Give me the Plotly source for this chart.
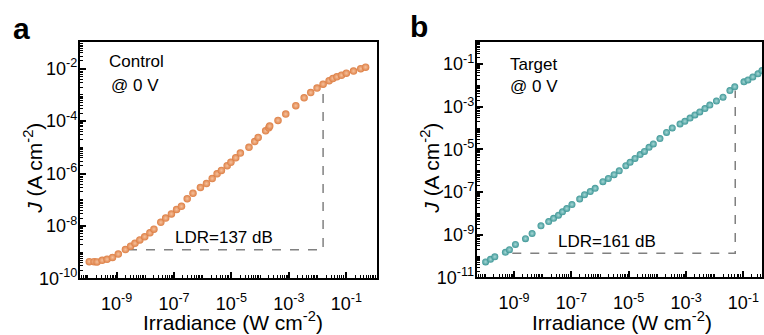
import plotly.graph_objects as go

# ---------------- data ----------------
ctrl_irr = [1.12e-10, 1.66e-10, 2.09e-10, 3.16e-10, 4.68e-10, 7.24e-10, 1.15e-9, 2.04e-9, 3.09e-9, 4.37e-9,
            6.46e-9, 9.55e-9, 1.45e-8, 2.00e-8, 3.47e-8, 5.13e-8, 8.13e-8, 1.23e-7, 1.82e-7, 2.88e-7,
            4.57e-7, 8.32e-7, 1.35e-6, 2.14e-6, 3.16e-6, 4.47e-6, 7.08e-6, 9.55e-6, 1.41e-5, 2.04e-5,
            4.07e-5, 6.46e-5, 8.51e-5, 1.55e-4, 2.00e-4, 2.14e-4, 4.17e-4, 7.76e-4, 1.74e-3, 3.39e-3,
            5.75e-3, 9.55e-3, 1.55e-2, 2.51e-2, 3.39e-2, 4.68e-2, 6.76e-2, 1.00e-1, 1.78e-1, 3.16e-1, 4.68e-1]
ctrl_J = [4.37e-10, 4.37e-10, 4.27e-10, 4.90e-10, 5.37e-10, 6.31e-10, 8.51e-10, 1.26e-9, 1.70e-9, 2.19e-9,
          2.95e-9, 3.89e-9, 5.50e-9, 7.59e-9, 1.38e-8, 2.00e-8, 2.88e-8, 4.27e-8, 5.62e-8, 1.10e-7,
          1.78e-7, 2.95e-7, 4.17e-7, 6.46e-7, 9.77e-7, 1.32e-6, 2.00e-6, 2.69e-6, 3.98e-6, 6.03e-6,
          1.00e-5, 1.66e-5, 2.40e-5, 4.27e-5, 5.62e-5, 6.46e-5, 1.07e-4, 1.86e-4, 3.89e-4, 7.76e-4,
          1.23e-3, 1.82e-3, 2.57e-3, 3.47e-3, 4.27e-3, 4.90e-3, 5.62e-3, 6.76e-3, 8.13e-3, 1.00e-2, 1.15e-2]

tgt_irr = [1.02e-10, 1.51e-10, 2.14e-10, 5.01e-10, 6.92e-10, 1.12e-9, 2.51e-9, 4.27e-9, 8.71e-9, 1.62e-8,
           2.40e-8, 3.55e-8, 4.90e-8, 6.92e-8, 1.05e-7, 1.95e-7, 2.88e-7, 4.57e-7, 6.76e-7, 1.26e-6,
           1.95e-6, 3.09e-6, 4.68e-6, 7.94e-6, 1.12e-5, 1.66e-5, 2.51e-5, 3.55e-5, 5.13e-5, 7.24e-5,
           1.23e-4, 2.09e-4, 3.31e-4, 6.17e-4, 9.12e-4, 1.38e-3, 2.04e-3, 3.02e-3, 4.57e-3, 6.76e-3,
           1.15e-2, 1.95e-2, 3.39e-2, 5.01e-2, 1.05e-1, 1.45e-1, 2.14e-1, 3.24e-1, 4.47e-1]
tgt_J = [5.37e-11, 7.08e-11, 9.33e-11, 1.51e-10, 2.00e-10, 3.55e-10, 6.61e-10, 1.15e-9, 2.63e-9, 4.17e-9,
         5.89e-9, 8.32e-9, 1.20e-8, 1.70e-8, 2.63e-8, 4.79e-8, 7.59e-8, 1.07e-7, 1.51e-7, 3.09e-7,
         4.37e-7, 6.61e-7, 1.00e-6, 1.74e-6, 2.51e-6, 3.80e-6, 5.75e-6, 8.13e-6, 1.26e-5, 1.82e-5,
         3.24e-5, 6.31e-5, 1.02e-4, 1.58e-4, 2.09e-4, 2.95e-4, 4.17e-4, 5.75e-4, 8.32e-4, 1.20e-3,
         1.86e-3, 2.82e-3, 5.75e-3, 8.71e-3, 1.48e-2, 1.82e-2, 2.51e-2, 3.55e-2, 5.01e-2]

# LDR guide lines (corner points)
ctrl_ldr_x = [2.5e-9, 1.55e-2, 1.55e-2]
ctrl_ldr_y = [1.23e-9, 1.23e-9, 1.82e-3]
tgt_ldr_x = [8.7e-10, 5.2e-2, 5.2e-2]
tgt_ldr_y = [1.38e-10, 1.38e-10, 5.75e-3]

ctrl_label = "LDR=137 dB"
tgt_label = "LDR=161 dB"

x_label_exps = [-9, -7, -5, -3, -1]
ctrl_y_label_exps = [-10, -8, -6, -4, -2]
tgt_y_label_exps = [-11, -9, -7, -5, -3, -1]

# ---------------- style ----------------
FONT = "Arial, Liberation Sans, sans-serif"
W, H = 764, 335
orange, orange_hi = "#dd7f45", "#f6c19c"
teal, teal_hi = "#3f9797", "#a6d8d6"


def sup(e):
    return "10<sup>%d</sup>" % e


def minor_vals(lo, hi, skip):
    vals = []
    for e in range(lo, hi + 1):
        for k in range(1, 10):
            if k == 1 and e in skip:
                continue
            vals.append(k * 10.0 ** e)
    return vals


def make_axis(label_exps, lo, hi, standoff):
    return dict(type="log", showgrid=False, zeroline=False, showline=True, linecolor="black", linewidth=2,
                mirror=True, ticks="inside", ticklen=6, tickwidth=1.5, tickcolor="black",
                tickmode="array", tickvals=[10.0 ** e for e in label_exps],
                ticktext=[sup(e) for e in label_exps], ticklabelstandoff=standoff,
                tickfont=dict(family=FONT, size=18, color="black"),
                minor=dict(ticks="inside", ticklen=3, tickwidth=1, tickcolor="black",
                           tickmode="array", tickvals=minor_vals(lo, hi, label_exps)))


fig = go.Figure()

fig.add_trace(go.Scatter(x=ctrl_ldr_x, y=ctrl_ldr_y, mode="lines", xaxis="x", yaxis="y",
                         line=dict(color="#808080", width=1.5, dash="dash"), showlegend=False, hoverinfo="skip"))
fig.add_trace(go.Scatter(x=ctrl_irr, y=ctrl_J, mode="markers", xaxis="x", yaxis="y",
                         marker=dict(size=7.5, color=orange, gradient=dict(type="radial", color=orange_hi),
                                     line=dict(width=0)), showlegend=False))
fig.add_trace(go.Scatter(x=tgt_ldr_x, y=tgt_ldr_y, mode="lines", xaxis="x2", yaxis="y2",
                         line=dict(color="#808080", width=1.5, dash="dash"), showlegend=False, hoverinfo="skip"))
fig.add_trace(go.Scatter(x=tgt_irr, y=tgt_J, mode="markers", xaxis="x2", yaxis="y2",
                         marker=dict(size=7, color=teal, gradient=dict(type="radial", color=teal_hi),
                                     line=dict(width=0)), showlegend=False))

xa = make_axis(x_label_exps, -11, 0, 8)
xa.update(domain=[80 / W, 377.5 / W], range=[-10.28, 0.05], anchor="y")
ya = make_axis(ctrl_y_label_exps, -11, 0, -3)
ya.update(domain=[(H - 287) / H, (H - 43) / H], range=[-10, -0.97], anchor="x")
xb = make_axis(x_label_exps, -11, 0, 8)
xb.update(domain=[478 / W, 1.0], range=[-10.30, -0.35], anchor="y2")
yb = make_axis(tgt_y_label_exps, -12, 0, -3)
yb.update(domain=[(H - 286) / H, (H - 43) / H], range=[-11, 0.05], anchor="x2")

ann = []


def txt(x, y, s, size=17, xanchor="left", angle=0, bold=False, yanchor="middle"):
    ann.append(dict(x=x / W, y=1 - y / H, xref="paper", yref="paper", text=("<b>%s</b>" % s) if bold else s,
                    showarrow=False, xanchor=xanchor, yanchor=yanchor, textangle=angle,
                    font=dict(family=FONT, size=size, color="black")))


txt(11, 29, "a", size=30, bold=True)
txt(409, 27, "b", size=30, bold=True)
txt(107, 63, "Control")
txt(109, 88, "@ 0 V")
txt(225, 245, ctrl_label, xanchor="center")
txt(509, 66, "Target")
txt(509, 89, "@ 0 V")
txt(609, 249, tgt_label, xanchor="center")
txt(234, 331, "Irradiance (W cm<sup>-2</sup>)", size=21, xanchor="center")
txt(624, 331, "Irradiance (W cm<sup>-2</sup>)", size=21, xanchor="center")
txt(33, 173, "<i>J</i> (A cm<sup>-2</sup>)", size=21, xanchor="center", angle=-90)
txt(431, 173, "<i>J</i> (A cm<sup>-2</sup>)", size=21, xanchor="center", angle=-90)

fig.update_layout(width=W, height=H, margin=dict(l=0, r=0, t=0, b=0), plot_bgcolor="white",
                  paper_bgcolor="white", xaxis=xa, yaxis=ya, xaxis2=xb, yaxis2=yb, annotations=ann,
                  showlegend=False)

fig.write_html("out.html", config={"displayModeBar": False},
               post_script="document.body.style.margin='0';document.body.style.overflow='hidden';")
